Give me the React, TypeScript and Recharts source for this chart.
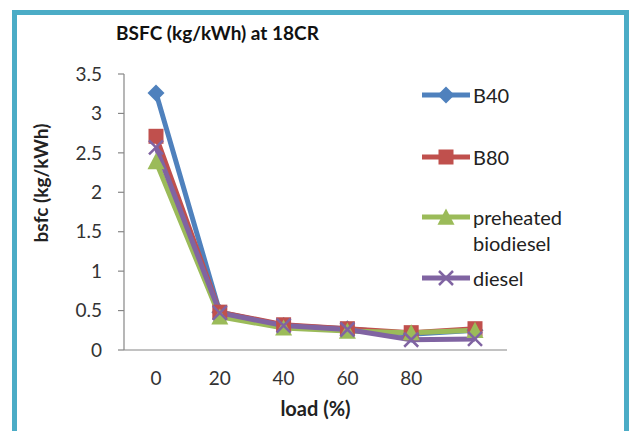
import React from 'react';
import { LineChart, Line, XAxis, YAxis, Label } from 'recharts';

const loads = ['0', '20', '40', '60', '80', ''];
const b40 = [3.26, 0.48, 0.31, 0.27, 0.2, 0.25];
const b80 = [2.71, 0.48, 0.32, 0.27, 0.22, 0.27];
const preheated = [2.39, 0.42, 0.28, 0.24, 0.22, 0.25];
const diesel = [2.57, 0.47, 0.31, 0.26, 0.13, 0.14];
const yTicks = [0, 0.5, 1, 1.5, 2, 2.5, 3, 3.5];

const data = loads.map((l, i) => ({
  load: l,
  B40: b40[i],
  B80: b80[i],
  pre: preheated[i],
  diesel: diesel[i],
}));

const FONT = 'Lato, "Open Sans", sans-serif';
const C_B40 = '#4f81bd';
const C_B80 = '#c0504d';
const C_PRE = '#9bbb59';
const C_DIE = '#8064a2';

type Shape = 'diamond' | 'square' | 'triangle' | 'x';

function marker(shape: Shape, color: string, cx: number, cy: number, key?: string) {
  if (shape === 'diamond') {
    const r = 8.5;
    return <path key={key} d={`M${cx},${cy - r}L${cx + r},${cy}L${cx},${cy + r}L${cx - r},${cy}Z`} fill={color} />;
  }
  if (shape === 'square') {
    const s = 7.5;
    return <rect key={key} x={cx - s} y={cy - s} width={2 * s} height={2 * s} fill={color} />;
  }
  if (shape === 'triangle') {
    const s = 8.5;
    return <path key={key} d={`M${cx},${cy - s}L${cx + s},${cy + s * 0.9}L${cx - s},${cy + s * 0.9}Z`} fill={color} />;
  }
  const r = 7;
  return (
    <path key={key} d={`M${cx - r},${cy - r}L${cx + r},${cy + r}M${cx + r},${cy - r}L${cx - r},${cy + r}`} stroke={color} strokeWidth={2.5} fill="none" />
  );
}

const dotFor = (shape: Shape, color: string) => (props: any) => {
  const { cx, cy, index } = props;
  if (cx == null || cy == null) return <g key={`d${index}`} />;
  return marker(shape, color, cx, cy, `d${shape}${index}`);
};

const series = [
  { key: 'B40', name: 'B40', color: C_B40, shape: 'diamond' as Shape, lines: ['B40'], ly: 95 },
  { key: 'B80', name: 'B80', color: C_B80, shape: 'square' as Shape, lines: ['B80'], ly: 157 },
  { key: 'pre', name: 'preheated biodiesel', color: C_PRE, shape: 'triangle' as Shape, lines: ['preheated', 'biodiesel'], ly: 217 },
  { key: 'diesel', name: 'diesel', color: C_DIE, shape: 'x' as Shape, lines: ['diesel'], ly: 278 },
];

export default function App() {
  return (
    <div style={{ position: 'absolute', left: 0, top: 0, width: 634, height: 431, overflow: 'hidden', background: '#fff' }}>
      <div
        style={{
          position: 'absolute',
          left: 12,
          top: 10,
          width: 617,
          height: 450,
          border: '5px solid #4bacc6',
          boxSizing: 'border-box',
        }}
      />
      <div style={{ position: 'absolute', left: 0, top: 0 }}>
        <LineChart width={634} height={431} data={data} margin={{ top: 74, right: 127, bottom: 51, left: 64 }}>
          <XAxis
            dataKey="load"
            height={30}
            padding={{ left: 32, right: 32 }}
            tickLine={false}
            tickSize={0}
            tickMargin={22}
            axisLine={{ stroke: '#868686', strokeWidth: 1.2 }}
            tick={{ fill: '#333', fontSize: 19, fontFamily: FONT }}
            interval={0}
          >
            <Label
              value="load (%)"
              position="bottom"
              offset={22}
              style={{ fill: '#222', fontSize: 20, fontWeight: 700, fontFamily: FONT }}
            />
          </XAxis>
          <YAxis
            width={60}
            domain={[0, 3.5]}
            ticks={yTicks}
            tickSize={6}
            tickMargin={16}
            axisLine={{ stroke: '#868686', strokeWidth: 1.2 }}
            tickLine={{ stroke: '#868686', strokeWidth: 1.2 }}
            tick={{ fill: '#333', fontSize: 19, fontFamily: FONT }}
            interval={0}
          >
            <Label
              content={() => (
                <text
                  x={40}
                  y={183}
                  transform="rotate(-90 40 183)"
                  textAnchor="middle"
                  dominantBaseline="central"
                  style={{ fill: '#222', fontSize: 19, fontWeight: 700, fontFamily: FONT }}
                >
                  bsfc (kg/kWh)
                </text>
              )}
            />
          </YAxis>
          {series.map((s) => (
            <Line
              key={s.key}
              dataKey={s.key}
              name={s.name}
              stroke={s.color}
              strokeWidth={5}
              dot={dotFor(s.shape, s.color)}
              activeDot={false}
              isAnimationActive={false}
            />
          ))}
        </LineChart>
      </div>
      <div
        style={{
          position: 'absolute',
          left: 0,
          top: 21,
          width: 435,
          textAlign: 'center',
          fontFamily: FONT,
          fontWeight: 700,
          fontSize: 19,
          color: '#111',
          lineHeight: '24px',
        }}
      >
        BSFC (kg/kWh) at 18CR
      </div>
      <svg style={{ position: 'absolute', left: 0, top: 0 }} width={634} height={431}>
        {series.map((s) => (
          <g key={s.key}>
            <line x1={422} x2={470} y1={s.ly} y2={s.ly} stroke={s.color} strokeWidth={5} />
            {marker(s.shape, s.color, 446, s.ly)}
            {s.lines.map((t, j) => (
              <text
                key={t}
                x={473}
                y={s.ly + j * 26}
                dominantBaseline="central"
                style={{ fill: '#222', fontSize: 20, fontFamily: FONT }}
              >
                {t}
              </text>
            ))}
          </g>
        ))}
      </svg>
    </div>
  );
}
